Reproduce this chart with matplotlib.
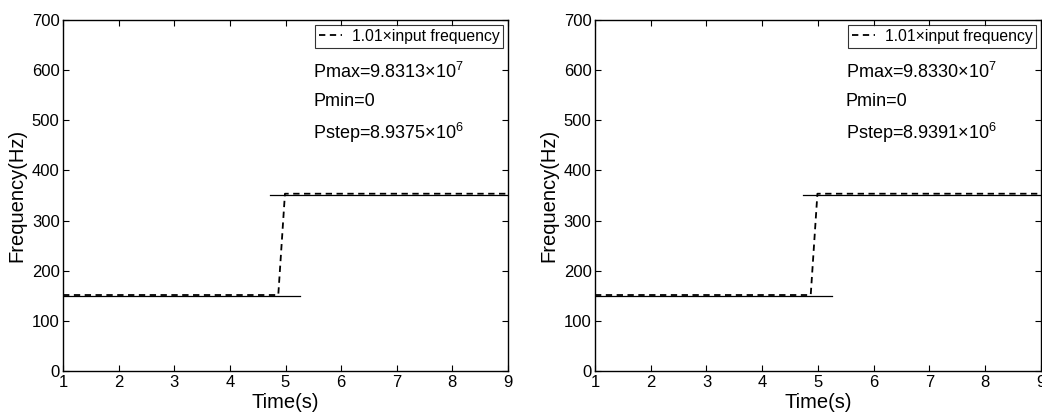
import matplotlib
matplotlib.use("Agg")
import matplotlib.pyplot as plt

plt.rcParams['font.family'] = ['Liberation Sans', 'DejaVu Sans']
plt.rcParams['mathtext.fontset'] = 'custom'
plt.rcParams['mathtext.rm'] = 'Liberation Sans'
plt.rcParams['mathtext.it'] = 'Liberation Sans'

# Data
input_low_t = [1.0, 5.26]
input_low_f = [150, 150]
input_high_t = [4.73, 9.0]
input_high_f = [350, 350]
scaled_t = [1.0, 4.87, 4.99, 9.0]
scaled_f = [151.5, 151.5, 353.5, 353.5]

legend_label = "1.01\u00d7input frequency"
panel_texts = [
    ["Pmax=9.8313\u00d710$^{7}$", "Pmin=0", "Pstep=8.9375\u00d710$^{6}$"],
    ["Pmax=9.8330\u00d710$^{7}$", "Pmin=0", "Pstep=8.9391\u00d710$^{6}$"],
]
text_y = [596, 538, 475]
xticks = [1, 2, 3, 4, 5, 6, 7, 8, 9]
yticks = [0, 100, 200, 300, 400, 500, 600, 700]

fig = plt.figure(figsize=(10.42, 4.13), dpi=100)
positions = [[0.0605, 0.1017, 0.427, 0.850], [0.571, 0.1017, 0.428, 0.850]]

for pos, texts in zip(positions, panel_texts):
    ax = fig.add_axes(pos)
    ax.plot(input_low_t, input_low_f, color='black', lw=0.9)
    ax.plot(input_high_t, input_high_f, color='black', lw=0.9)
    ax.plot(scaled_t, scaled_f, color='black', lw=1.3, dashes=(3.5, 2.5),
            label=legend_label)
    ax.set_xlim(1, 9)
    ax.set_ylim(0, 700)
    ax.set_xticks(xticks)
    ax.set_yticks(yticks)
    ax.tick_params(direction='in', top=True, right=True, labelsize=12,
                   length=4, width=0.8, pad=2.5)
    ax.tick_params(axis='x', pad=3)
    for s in ax.spines.values():
        s.set_linewidth(1.0)
    ax.set_xlabel("Time(s)", fontsize=14.5, labelpad=2)
    ax.set_ylabel("Frequency(Hz)", fontsize=14.5, labelpad=4)
    for txt, y in zip(texts, text_y):
        ax.text(5.5, y, txt, fontsize=13, va='center', ha='left')
    leg = ax.legend(loc='upper right', fontsize=11.3, frameon=True, fancybox=False,
                    handlelength=1.5, handletextpad=0.6, borderpad=0.25,
                    borderaxespad=0.3)
    leg.get_frame().set_edgecolor('black')
    leg.get_frame().set_linewidth(0.8)

fig.savefig("out.png", dpi=100)
